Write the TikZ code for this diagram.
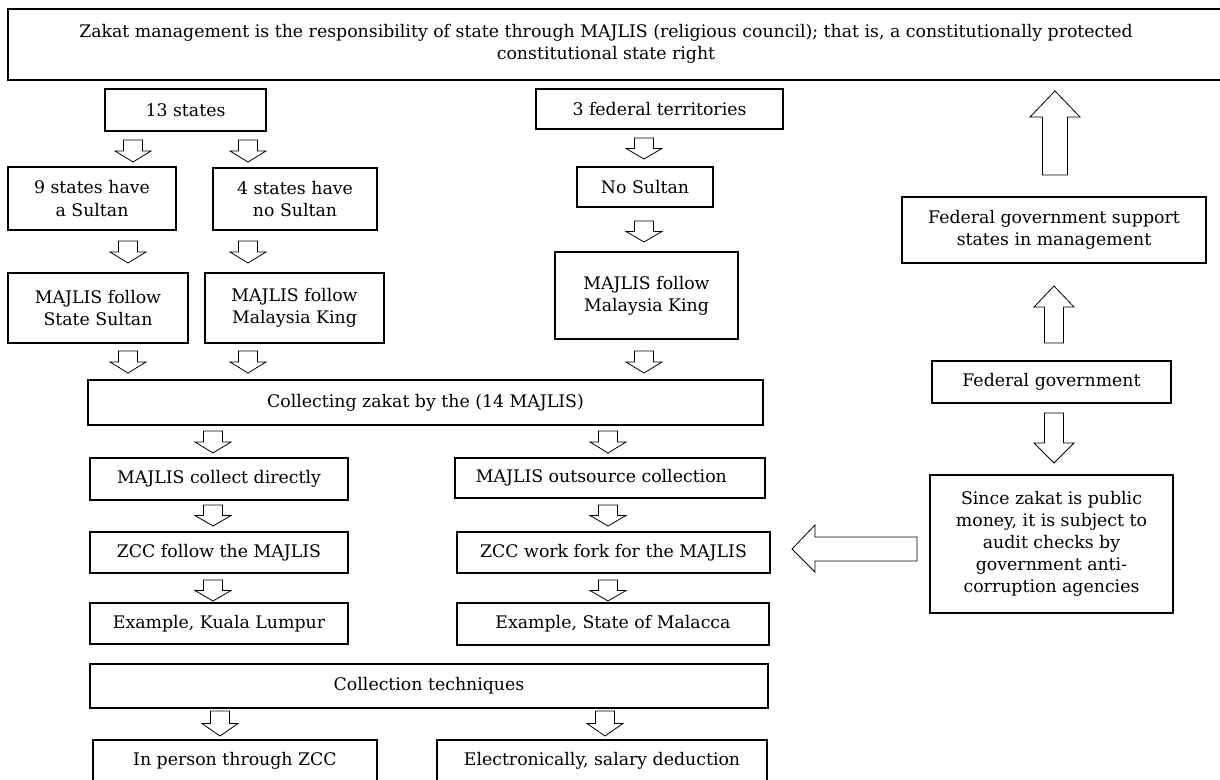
\documentclass[tikz,border=0pt]{standalone}
\usepackage{fontspec}
\setmainfont{DejaVu Serif}
\begin{document}
\begin{tikzpicture}[x=0.75pt,y=-0.75pt,
  box/.style={draw=black,line width=0.9pt,inner sep=0pt,align=center,
    font=\fontsize{13}{16.6}\selectfont},
  lbl/.style={inner sep=0pt,align=center,font=\fontsize{13}{16.6}\selectfont},
  blk/.style={draw=black,line width=0.6pt,fill=white,line join=miter}]
\useasboundingbox (0,0) rectangle (1220,780);
\newcommand\bx[6]{\node[box,minimum width={(#4-#2)*0.75pt},minimum height={(#5-#3)*0.75pt}] (#1) at ({(#2+#4)/2},{(#3+#5)/2}) {#6};}
\newcommand\varr[6]{\draw[blk] ({#1-#5},#2) -- ({#1+#5},#2) -- ({#1+#5},#3) -- ({#1+#6},#3) -- (#1,#4) -- ({#1-#6},#3) -- ({#1-#5},#3) -- cycle;}
\newcommand\sarr[3]{\varr{#1}{#2}{{(#2+#3)/2}}{#3}{9.5}{18}}
% top box
\draw[line width=0.9pt] (1226,9) -- (8,9) -- (8,80) -- (1226,80);
\node[lbl] (top) at (606,44) {Zakat management is the responsibility of state through MAJLIS (religious council); that is, a constitutionally protected\\constitutional state right};
% left / middle column
\bx{s13}{105}{89}{266}{131}{13 states}
\bx{ft3}{536}{89}{783}{129}{3 federal territories}
\bx{s9}{8}{167}{176}{230}{9 states have\\a Sultan}
\bx{s4}{213}{168}{377}{230}{4 states have\\no Sultan}
\bx{nos}{577}{167}{713}{207}{No Sultan}
\bx{mss}{8}{273}{188}{343}{MAJLIS follow\\State Sultan}
\bx{mmk}{205}{273}{384}{343}{MAJLIS follow\\Malaysia King}
\bx{mmkf}{555}{252}{738}{339}{MAJLIS follow\\Malaysia King}
\bx{coll}{88}{380}{763}{425}{Collecting zakat by the (14 MAJLIS)}
\bx{mcd}{90}{458}{348}{500}{MAJLIS collect directly}
\bx{moc}{455}{458}{765}{498}{\hspace*{-13pt}MAJLIS outsource collection}
\bx{zfm}{90}{532}{348}{573}{ZCC follow the MAJLIS}
\bx{zwf}{457}{532}{770}{573}{ZCC work fork for the MAJLIS}
\bx{ekl}{90}{603}{348}{644}{Example, Kuala Lumpur}
\bx{esm}{457}{603}{769}{645}{Example, State of Malacca}
\bx{ctq}{90}{664}{768}{708}{Collection techniques}
\bx{ipz}{93}{740}{377}{782}{In person through ZCC}
\bx{esd}{437}{740}{767}{782}{Electronically, salary deduction}
% right column
\bx{fgs}{902}{197}{1206}{263}{Federal government support\\states in management}
\bx{fg}{932}{361}{1171}{403}{Federal government}
\bx{szp}{930}{475}{1173}{613}{Since zakat is public\\money, it is subject to\\audit checks by\\government anti-\\corruption agencies}
% small arrows
\sarr{133}{140}{162}
\sarr{248}{140}{162}
\sarr{644}{138}{159}
\sarr{128}{241}{263}
\sarr{248}{241}{263}
\sarr{644}{221}{242}
\sarr{128}{351}{373}
\sarr{248}{351}{373}
\sarr{644}{351}{373}
\sarr{213}{431}{453}
\sarr{608}{431}{453}
\sarr{213}{505}{526}
\sarr{608}{505}{526}
\sarr{213}{580}{601}
\sarr{608}{580}{601}
\sarr{220}{711}{736}
\sarr{605}{711}{736}
% big arrows
\varr{1055}{175}{117}{91}{12.5}{25}
\varr{1054}{343}{307}{286}{9.5}{20}
\varr{1054}{413}{443}{463}{9.5}{20}
\draw[blk] (917,537) -- (815,537) -- (815,525) -- (792,549) -- (815,572) -- (815,561) -- (917,561) -- cycle;
\end{tikzpicture}
\end{document}
